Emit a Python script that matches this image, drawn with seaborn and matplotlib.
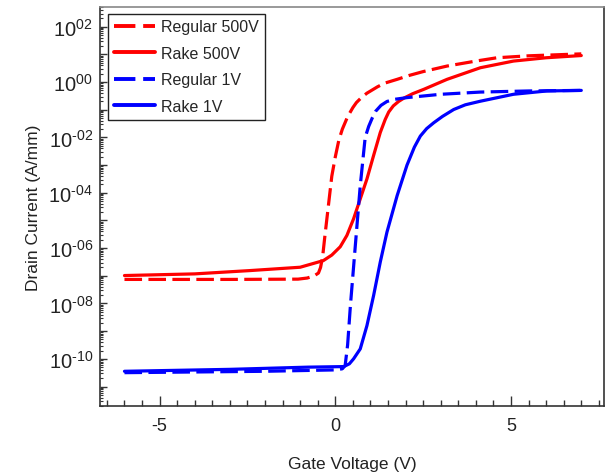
import matplotlib
matplotlib.use("Agg")
import numpy as np
import pandas as pd
import matplotlib.pyplot as plt
import matplotlib.ticker as mticker
import seaborn as sns

# gate voltage (V) and log10 of drain current (A/mm)
reg500_vg = [-6, -3, -1.06, -0.8, -0.6, -0.48, -0.42, -0.36, -0.3, -0.2, -0.1, 0.0, 0.1, 0.2,
             0.35, 0.5, 0.6, 0.75, 0.9, 1.2, 1.4, 1.76, 2.1, 2.5, 3.18, 4.0, 4.6, 5.5, 7.0]
reg500_log = [-7.13, -7.13, -7.12, -7.08, -7.0, -6.9, -6.7, -6.3, -5.6, -4.5, -3.4, -2.7, -2.1, -1.7,
              -1.25, -0.92, -0.74, -0.55, -0.4, -0.17, -0.04, 0.1, 0.24, 0.38, 0.58, 0.76, 0.88, 0.95, 1.02]

rake500_vg = [-6, -4, -2.42, -1.0, -0.34, -0.1, 0.14, 0.33, 0.52, 0.71, 0.9, 1.09, 1.28, 1.42,
              1.52, 1.65, 1.8, 1.95, 2.2, 2.52, 3.18, 4.13, 5.07, 6.0, 7.0]
rake500_log = [-6.99, -6.93, -6.81, -6.69, -6.45, -6.25, -5.95, -5.54, -4.94, -4.22, -3.5, -2.65, -1.82, -1.35,
               -1.08, -0.86, -0.7, -0.58, -0.42, -0.26, 0.1, 0.52, 0.76, 0.88, 0.96]

reg1_vg = [-6, -2, 0.0, 0.2, 0.28, 0.35, 0.43, 0.57, 0.71, 0.85, 0.95, 1.05, 1.15, 1.3, 1.47,
           1.7, 2.04, 3.0, 4.13, 5.5, 7.0]
reg1_log = [-10.5, -10.45, -10.4, -10.36, -10.24, -9.5, -8.07, -5.9, -3.74, -2.0, -1.6, -1.3, -1.05, -0.84, -0.7,
            -0.62, -0.56, -0.44, -0.36, -0.32, -0.3]

rake1_vg = [-6, -3, -0.77, 0.24, 0.4, 0.52, 0.71, 0.9, 1.09, 1.28, 1.47, 1.76, 2.04, 2.25, 2.42,
            2.6, 2.8, 3.05, 3.37, 3.7, 4.13, 5.07, 6.02, 7.0]
rake1_log = [-10.45, -10.38, -10.3, -10.28, -10.18, -10.0, -9.64, -8.8, -7.71, -6.5, -5.42, -4.1, -3.0, -2.35, -1.95,
             -1.68, -1.47, -1.24, -0.99, -0.82, -0.69, -0.44, -0.32, -0.3]

labels = ["Regular 500V", "Rake 500V", "Regular 1V", "Rake 1V"]
colors = {"Regular 500V": "#ff0000", "Rake 500V": "#ff0000",
          "Regular 1V": "#0000ff", "Rake 1V": "#0000ff"}
dash_styles = {"Regular 500V": (5.5, 2), "Rake 500V": "",
               "Regular 1V": (5.5, 2), "Rake 1V": ""}

frames = []
for name, vg, lg in zip(labels, [reg500_vg, rake500_vg, reg1_vg, rake1_vg],
                        [reg500_log, rake500_log, reg1_log, rake1_log]):
    frames.append(pd.DataFrame({"vg": vg, "id": 10.0 ** np.array(lg), "device": name}))
df = pd.concat(frames, ignore_index=True)

sns.set_style("ticks")
plt.rcParams["font.family"] = ["Liberation Sans", "DejaVu Sans"]
plt.rcParams["mathtext.fontset"] = "custom"
plt.rcParams["mathtext.rm"] = "Liberation Sans"
plt.rcParams["mathtext.default"] = "regular"
plt.rcParams["axes.unicode_minus"] = False

fig = plt.figure(figsize=(6.09, 4.77), dpi=100)
ax = fig.add_axes([0.164, 0.147, 0.828, 0.836])

sns.lineplot(data=df, x="vg", y="id", hue="device", style="device", hue_order=labels,
             style_order=labels, palette=colors, dashes=dash_styles, sort=False,
             linewidth=2.3, ax=ax, legend=True)

ax.set_yscale("log")
ax.set_xlim(-6.7, 7.65)
ax.set_ylim(10 ** -11.7, 10 ** 2.71)

ax.xaxis.set_major_locator(mticker.MultipleLocator(5))
ax.xaxis.set_minor_locator(mticker.MultipleLocator(0.5))
ax.yaxis.set_major_locator(mticker.LogLocator(base=10, numticks=30))
ax.yaxis.set_minor_locator(mticker.LogLocator(base=10, subs=np.arange(2, 10), numticks=30))


def fmt_pow(v, pos):
    e = int(round(np.log10(v)))
    if e % 2:
        return ""
    s = "%03d" % e if e < 0 else "%02d" % e
    return r"$10^{\text{%s}}$" % s


ax.yaxis.set_major_formatter(mticker.FuncFormatter(fmt_pow))
ax.yaxis.set_minor_formatter(mticker.NullFormatter())

ax.tick_params(axis="both", which="both", direction="in", colors="#333333", labelcolor="#222222")
ax.tick_params(axis="x", which="major", length=7, width=1, labelsize=13, pad=8)
ax.tick_params(axis="x", which="minor", length=4, width=1)
ax.tick_params(axis="y", which="major", length=5, width=1, labelsize=14.5, pad=5)
ax.tick_params(axis="y", which="minor", length=2.5, width=0.8)

for side in ["left", "bottom", "right"]:
    ax.spines[side].set_color("#333333")
    ax.spines[side].set_linewidth(1.2)
ax.spines["top"].set_color("#888888")
ax.spines["top"].set_linewidth(1.2)

ax.set_xlabel("Gate Voltage (V)", fontsize=12.5, color="#222222", labelpad=16)
ax.set_ylabel("Drain Current (A/mm)", fontsize=12.5, color="#222222", labelpad=5)

handles, hl = ax.get_legend_handles_labels()
leg = ax.legend(handles, hl, loc="upper left", bbox_to_anchor=(0.016, 0.983), fontsize=11.5,
                frameon=True, fancybox=False, edgecolor="#222222", framealpha=1,
                handlelength=2.6, handletextpad=0.4, borderpad=0.35, labelspacing=0.72,
                borderaxespad=0)
leg.get_frame().set_linewidth(1.0)
for line in leg.get_lines():
    line.set_linewidth(2.8)

fig.savefig("out.png", dpi=100)
